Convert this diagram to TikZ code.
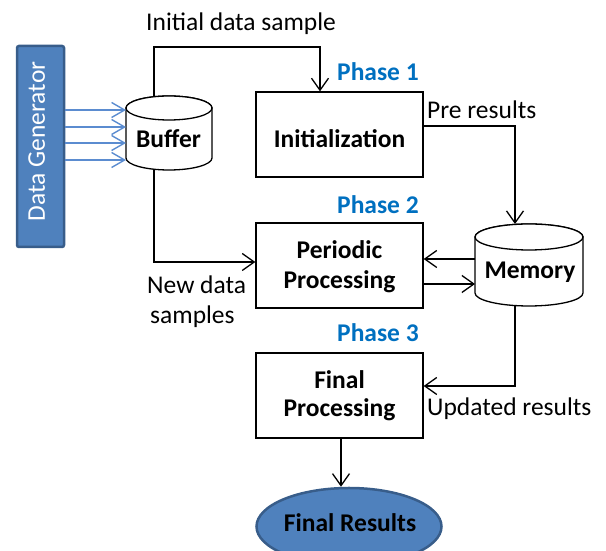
\documentclass[tikz,border=0pt]{standalone}
\usepackage{fontspec}
\setmainfont{Carlito}
\usetikzlibrary{arrows.meta,shapes.geometric}
\definecolor{boxblue}{HTML}{4F81BD}
\definecolor{edgeblue}{HTML}{385D8A}
\definecolor{phaseblue}{HTML}{0070C0}
\definecolor{inblue}{HTML}{5B8CD0}
\begin{document}
\begin{tikzpicture}[x=1pt,y=1pt,
  font=\fontsize{25.5}{30}\selectfont,
  procbox/.style={draw=black, line width=1.3pt, fill=white, minimum width=167pt, minimum height=85pt, inner sep=0pt},
  holder/.style={inner sep=0pt, outer sep=0pt},
  cyl/.style={draw=black, line width=1.3pt, fill=white},
  conn/.style={draw=black, line width=1.3pt, -{Straight Barb[length=12pt,width=17pt,line width=1.3pt]}},
  inconn/.style={draw=inblue, line width=1.4pt, -{Straight Barb[length=13pt,width=15pt,line width=1.4pt]}},
  lbl/.style={anchor=base west, inner sep=0pt},
  ttl/.style={anchor=base, inner sep=0pt, font=\fontsize{25.5}{30}\selectfont\bfseries},
  phase/.style={anchor=base west, inner sep=0pt, text=phaseblue, font=\fontsize{25.5}{30}\selectfont\bfseries},
  bluebox/.style={draw=edgeblue, line width=2.5pt, fill=boxblue, inner sep=0pt}
]
\useasboundingbox (0,0) rectangle (606,551);

% Data generator
\node[bluebox, rounded corners=2pt, minimum width=47pt, minimum height=201pt] (gen) at (40.5,404.5) {};
\node[rotate=90, anchor=base, inner sep=0pt, text=white] (gentext) at (45,409.5) {Data Generator};

% Buffer cylinder
\node[holder, minimum width=86pt, minimum height=74pt] (buf) at (169,418) {};
\path[cyl] (126,443) -- (126,393) arc[start angle=180, end angle=360, x radius=43, y radius=12] -- (212,443) arc[start angle=0, end angle=180, x radius=43, y radius=12] -- cycle;
\draw[cyl] (169,443) ellipse[x radius=43, y radius=12];
\node[ttl] (buftext) at (168.5,403.7) {Buffer};

% Memory cylinder
\node[holder, minimum width=108pt, minimum height=82pt] (mem) at (529,286) {};
\path[cyl] (475,314) -- (475,258) arc[start angle=180, end angle=360, x radius=54, y radius=13] -- (583,314) arc[start angle=0, end angle=180, x radius=54, y radius=13] -- cycle;
\draw[cyl] (529,314) ellipse[x radius=54, y radius=13];
\node[ttl] (memtext) at (530,272.7) {Memory};

% Process boxes
\node[procbox] (init) at (339.5,416.5) {};
\node[procbox] (per) at (339.5,285.5) {};
\node[procbox] (fin) at (339.5,155.5) {};
\node[ttl] (inittext) at (339.5,403.7) {Initialization};
\node[ttl] (pertext1) at (339.5,292.7) {Periodic};
\node[ttl] (pertext2) at (339.5,262.7) {Processing};
\node[ttl] (fintext1) at (339.5,162.7) {Final};
\node[ttl] (fintext2) at (339.5,134.3) {Processing};

% Final results
\node[bluebox, ellipse, minimum width=185pt, minimum height=77pt] (res) at (349,24.5) {};
\node[ttl] (restext) at (350,19) {Final Results};

% Phase labels
\node[phase] (ph1) at (337,470.3) {Phase 1};
\node[phase] (ph2) at (337,337.7) {Phase 2};
\node[phase] (ph3) at (337,209.3) {Phase 3};

% Other labels
\node[lbl] (l1) at (146,520) {Initial data sample};
\node[lbl] (l2) at (427,432.7) {Pre results};
\node[lbl] (l3) at (427,135.3) {Updated results};
\node[lbl] (l4) at (147,257.7) {New data};
\node[lbl] (l5) at (150,227.7) {samples};

% Generator to buffer
\foreach \yy in {441,424,408,391}
  \draw[inconn] (gen.east |- 0,\yy) -- (buf.west |- 0,\yy);

% Connectors
\draw[conn] (buf.north -| 154,0) -- (154,504) -| (init.north -| 320,0);
\draw[conn] (init.east |- 0,425) -| (mem.north -| 515,0);
\draw[conn] (mem.west |- 0,292) -- (per.east |- 0,292);
\draw[conn] (per.east |- 0,267) -- (mem.west |- 0,267);
\draw[conn] (buf.south -| 154,0) |- (per.west |- 0,289);
\draw[conn] (mem.south -| 515,0) |- (fin.east |- 0,165);
\draw[conn] (fin.south -| 341,0) -- (res.north -| 341,0);
\end{tikzpicture}
\end{document}
